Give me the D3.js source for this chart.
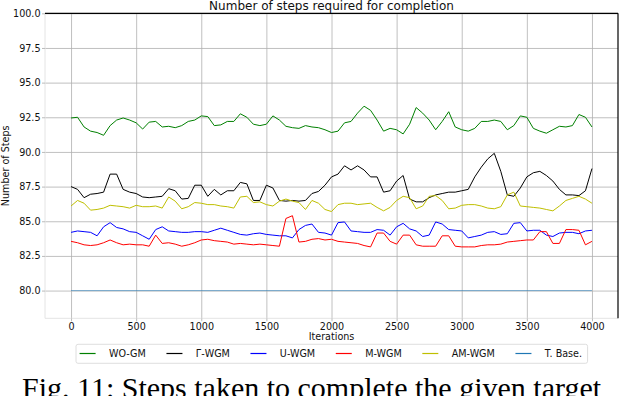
<!DOCTYPE html>
<html>
<head>
<meta charset="utf-8">
<script src="https://cdn.jsdelivr.net/npm/d3@7"></script>
<style>
body { margin: 0; background: #fff; }
</style>
</head>
<body>
<div id="main"></div>
<script>
// iterations sampled every 50 steps
const iters = d3.range(0, 4001, 50);

const woGM = [92.45, 92.5, 91.8, 91.5, 91.4, 91.2, 91.9, 92.3, 92.45, 92.3,
  92.1, 91.65, 92.15, 92.2, 91.8, 91.85, 91.75, 91.9, 92.2, 92.3,
  92.6, 92.55, 91.9, 91.95, 92.2, 92.2, 92.75, 92.5, 92.0, 91.9,
  92.0, 92.6, 92.3, 91.85, 91.75, 91.7, 91.9, 91.8, 91.75, 91.6,
  91.4, 91.5, 92.1, 92.2, 92.8, 93.3, 93.0, 92.3, 91.5, 91.7,
  91.6, 91.3, 92.0, 93.2, 92.8, 92.3, 91.6, 92.2, 92.9, 91.8,
  91.6, 91.5, 91.7, 92.2, 92.2, 92.3, 92.2, 91.6, 91.9, 92.6,
  92.5, 91.7, 91.5, 91.35, 91.6, 91.85, 91.8, 91.9, 92.7, 92.5,
  91.8];

const gammaWGM = [87.5, 87.3, 86.7, 86.95, 87.0, 87.1, 88.4, 88.4, 87.3, 87.1,
  87.0, 86.75, 86.7, 86.75, 86.8, 87.35, 87.2, 86.6, 86.65, 87.6,
  87.6, 86.8, 87.3, 86.9, 87.2, 87.2, 87.8, 87.7, 86.5, 86.5,
  87.6, 87.4, 86.5, 86.45, 86.5, 86.45, 86.5, 87.0, 87.15, 87.6,
  88.2, 88.4, 89.0, 88.7, 89.0, 88.7, 88.2, 88.2, 87.1, 87.2,
  87.9, 88.3, 86.6, 86.4, 86.4, 86.7, 86.9, 87.0, 87.1, 87.1,
  87.2, 87.3, 88.2, 88.9, 89.5, 89.9, 88.6, 86.9, 86.8, 87.4,
  88.2, 88.5, 88.6, 88.3, 87.9, 87.3, 86.9, 86.9, 86.85, 87.2,
  88.8];

const uWGM = [84.2, 84.3, 84.25, 84.2, 83.95, 84.6, 84.9, 84.55, 84.45, 84.25,
  84.2, 83.95, 83.7, 84.4, 84.6, 84.3, 84.25, 84.2, 84.2, 84.25,
  84.25, 84.2, 84.35, 84.5, 84.35, 84.2, 84.05, 84.0, 84.1, 84.15,
  84.05, 84.0, 83.95, 83.95, 83.8, 84.4, 84.7, 84.8, 84.2, 84.15,
  84.0, 84.9, 84.95, 84.3, 84.25, 84.2, 84.2, 84.4, 84.35, 84.0,
  84.6, 84.85, 84.45, 84.3, 83.9, 84.0, 84.95, 84.8, 84.4, 84.35,
  84.3, 83.8, 83.9, 84.0, 84.2, 84.25, 84.05, 84.1, 84.85, 84.9,
  84.3, 84.35, 84.35, 84.0, 83.9, 84.15, 84.2, 84.2, 84.1, 84.3,
  84.35];

const mWGM = [83.55, 83.45, 83.3, 83.25, 83.3, 83.45, 83.65, 83.45, 83.3, 83.35,
  83.3, 83.3, 83.2, 84.0, 83.4, 83.45, 83.35, 83.2, 83.3, 83.45,
  83.65, 83.7, 83.6, 83.55, 83.5, 83.35, 83.4, 83.35, 83.3, 83.35,
  83.3, 83.25, 83.2, 85.2, 85.4, 83.5, 83.55, 83.7, 83.75, 83.65,
  83.7, 83.55, 83.5, 83.45, 83.4, 83.25, 83.15, 84.15, 84.15, 83.55,
  83.35, 84.0, 84.0, 83.3, 83.2, 83.2, 83.2, 83.95, 83.95, 83.2,
  83.15, 83.15, 83.15, 83.25, 83.3, 83.3, 83.35, 83.5, 83.55, 83.6,
  83.65, 83.65, 84.25, 84.25, 83.4, 83.4, 84.4, 84.4, 84.35, 83.3,
  83.55];

const amWGM = [86.1, 86.5, 86.3, 85.8, 85.85, 85.95, 86.15, 86.1, 86.05, 85.95,
  86.15, 86.05, 86.05, 86.1, 85.95, 86.75, 86.45, 85.9, 86.05, 86.35,
  86.3, 86.2, 86.2, 86.1, 86.05, 85.95, 86.75, 86.8, 86.35, 86.4,
  86.2, 86.1, 86.45, 86.6, 86.45, 86.35, 85.85, 86.5, 86.3, 85.85,
  85.7, 86.2, 86.3, 86.3, 86.2, 86.25, 86.3, 86.0, 85.75, 86.0,
  86.5, 86.8, 86.7, 85.9, 86.1, 86.8, 86.85, 86.5, 85.9, 85.95,
  86.15, 86.2, 86.2, 86.1, 85.95, 85.9, 86.05, 86.9, 87.1, 86.1,
  86.05, 86.0, 85.95, 85.85, 85.75, 86.1, 86.5, 86.65, 86.8, 86.6,
  86.3];

const tBaseIters = [0, 4000];
const tBase = [80.0, 80.0];

const seriesNames = ["WO-GM", "\u0393-WGM", "U-WGM", "M-WGM", "AM-WGM", "T. Base."];
const seriesColors = ["#008000", "#000000", "#0000ff", "#ff0000", "#bfbf00", "#1f77b4"];

const xTicks = [0, 500, 1000, 1500, 2000, 2500, 3000, 3500, 4000];
const yTicks = [80.0, 82.5, 85.0, 87.5, 90.0, 92.5, 95.0, 97.5, 100.0];

const width = 620, height = 396;
const margin = {top: 13.3, left: 45, right: 2, bottom: 77.7};
const plotW = width - margin.left - margin.right;
const plotH = height - margin.top - margin.bottom;
const sansFont = '"DejaVu Sans", sans-serif';

const svg = d3.select('#main').append('svg').attr('width', width).attr('height', height)
  .attr('font-family', sansFont);
svg.append('rect').attr('width', width).attr('height', height).attr('fill', '#fff');

const x = d3.scaleLinear().domain([-200, 4200]).range([margin.left, margin.left + plotW]);
const y = d3.scaleLinear().domain([78, 100]).range([margin.top + plotH, margin.top]);

// grid
svg.append('g').attr('transform', `translate(0,${margin.top + plotH})`)
  .call(d3.axisBottom(x).tickValues(xTicks).tickSize(-plotH).tickFormat(''))
  .call(g => g.select('.domain').remove())
  .call(g => g.selectAll('line').attr('stroke', '#b0b0b0').attr('stroke-width', 0.8));
svg.append('g').attr('transform', `translate(${margin.left},0)`)
  .call(d3.axisLeft(y).tickValues(yTicks).tickSize(-plotW).tickFormat(''))
  .call(g => g.select('.domain').remove())
  .call(g => g.selectAll('line').attr('stroke', '#b0b0b0').attr('stroke-width', 0.8));

// left / bottom spines light, top / right dark
svg.append('line').attr('x1', margin.left).attr('x2', margin.left).attr('y1', margin.top).attr('y2', margin.top + plotH).attr('stroke', '#e4e4e4');
svg.append('line').attr('x1', margin.left).attr('x2', margin.left + plotW).attr('y1', margin.top + plotH).attr('y2', margin.top + plotH).attr('stroke', '#e4e4e4');
svg.append('line').attr('x1', margin.left).attr('x2', margin.left + plotW).attr('y1', margin.top).attr('y2', margin.top).attr('stroke', '#000').attr('stroke-width', 1.2);
svg.append('line').attr('x1', margin.left + plotW).attr('x2', margin.left + plotW).attr('y1', margin.top).attr('y2', margin.top + plotH).attr('stroke', '#000').attr('stroke-width', 1.2);

// axes with labels
const xAxis = svg.append('g').attr('transform', `translate(0,${margin.top + plotH})`)
  .call(d3.axisBottom(x).tickValues(xTicks).tickSize(3).tickPadding(2).tickFormat(d3.format('d')));
const yAxis = svg.append('g').attr('transform', `translate(${margin.left},0)`)
  .call(d3.axisLeft(y).tickValues(yTicks).tickSize(3).tickPadding(1.5).tickFormat(d3.format('.1f')));
[xAxis, yAxis].forEach(a => {
  a.attr('font-family', sansFont);
  a.select('.domain').remove();
  a.selectAll('line').attr('stroke', '#bbb');
  a.selectAll('text').attr('font-size', 9.6).attr('fill', '#111');
});

// lines
const allSeries = [
  {xs: iters, ys: woGM},
  {xs: iters, ys: gammaWGM},
  {xs: iters, ys: uWGM},
  {xs: iters, ys: mWGM},
  {xs: iters, ys: amWGM},
  {xs: tBaseIters, ys: tBase}
];
const line = d3.line().x(d => x(d[0])).y(d => y(d[1]));
allSeries.forEach((s, k) => {
  svg.append('path')
    .datum(s.xs.map((v, i) => [v, s.ys[i]]))
    .attr('d', line)
    .attr('fill', 'none')
    .attr('stroke', seriesColors[k])
    .attr('stroke-width', 1)
    .attr('stroke-opacity', k == 5 ? 0.55 : 1)
    .attr('stroke-linejoin', 'round');
});

// titles
svg.append('text').attr('x', margin.left + plotW / 2).attr('y', 10).attr('text-anchor', 'middle')
  .attr('font-size', 12).attr('fill', '#111').text('Number of steps required for completion');
svg.append('text').attr('x', margin.left + plotW / 2).attr('y', 340).attr('text-anchor', 'middle')
  .attr('font-size', 9.6).attr('fill', '#111').text('Iterations');
svg.append('text').attr('transform', `translate(9,${margin.top + plotH / 2}) rotate(-90)`).attr('text-anchor', 'middle')
  .attr('font-size', 9.6).attr('fill', '#111').text('Number of Steps');

// legend
const leg = svg.append('g');
const legBox = leg.append('rect').attr('x', 76).attr('y', 344.3).attr('height', 19).attr('rx', 2)
  .attr('fill', '#fff').attr('stroke', '#d6d6d6').attr('stroke-width', 0.8);
let lx = 79.6;
seriesNames.forEach((name, k) => {
  leg.append('line').attr('x1', lx).attr('x2', lx + 16).attr('y1', 353.5).attr('y2', 353.5)
    .attr('stroke', seriesColors[k]).attr('stroke-width', 1.2);
  const t = leg.append('text').attr('x', lx + 29.4).attr('y', 357).attr('font-size', 9.6)
    .attr('fill', '#111').text(name);
  const w = t.node().getComputedTextLength();
  lx = lx + 29.4 + w + (k < seriesNames.length - 1 ? 20.6 : 5.5);
});
legBox.attr('width', lx - 76);

// caption (cut at the bottom edge, as in the source figure)
svg.append('text').attr('x', 22).attr('y', 398)
  .attr('font-family', '"Liberation Serif", "Times New Roman", serif')
  .attr('font-size', 30).attr('fill', '#000')
  .text('Fig. 11: Steps taken to complete the given target');
</script>
</body>
</html>
